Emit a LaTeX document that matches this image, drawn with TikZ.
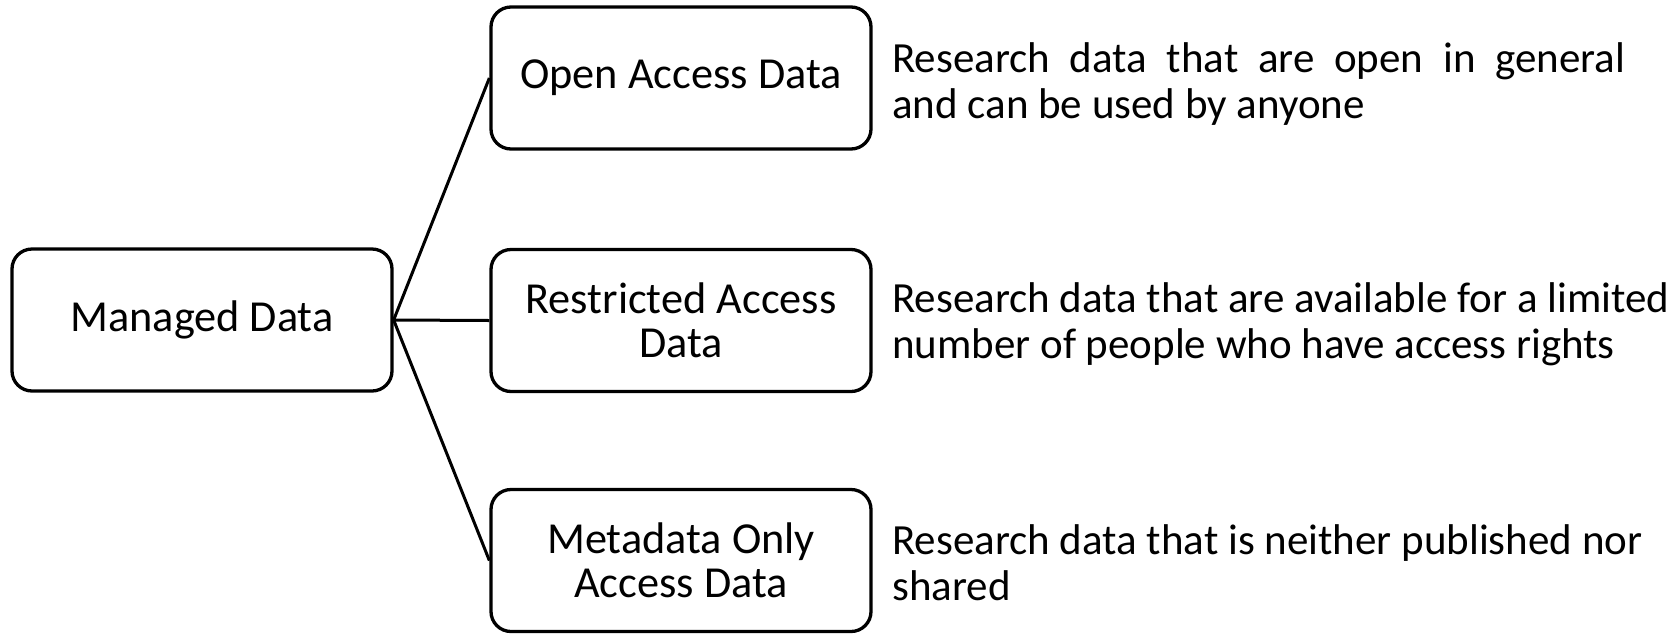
\documentclass[tikz,border=0pt]{standalone}
\usepackage{fontspec}
\setmainfont{Carlito}
\tikzset{
  catbox/.style={draw, line width=3.3pt, rounded corners=20pt, minimum width=380pt, minimum height=142pt, inner sep=0pt, align=center, font=\fontsize{44.3pt}{44pt}\selectfont},
  desc/.style={anchor=west, inner sep=0pt, align=left, font=\fontsize{43pt}{46pt}\selectfont},
  link/.style={line width=3pt}
}
\begin{document}
\begin{tikzpicture}[x=1pt, y=-1pt]
\useasboundingbox (0,0) rectangle (1674,633);
\node[catbox] (managed) at (202,320) {Managed Data};
\node[catbox] (open) at (681,78) {Open Access Data};
\node[catbox] (restr) at (681,320.5) {Restricted Access\\Data};
\node[catbox] (meta) at (681,560.5) {Metadata Only\\Access Data};
\draw[link] (managed.east) -- (open.west);
\draw[link] (managed.east) -- (restr.west);
\draw[link] (managed.east) -- (meta.west);
\node[desc] (dopen) at (892,84) {\makebox[733pt][s]{Research data that are open in general}\\and can be used by anyone};
\node[desc] (drestr) at (892,324) {Research data that are available for a limited\\number of people who have access rights};
\node[desc] (dmeta) at (892,563) {Research data that is neither published nor\\shared};
\end{tikzpicture}
\end{document}
